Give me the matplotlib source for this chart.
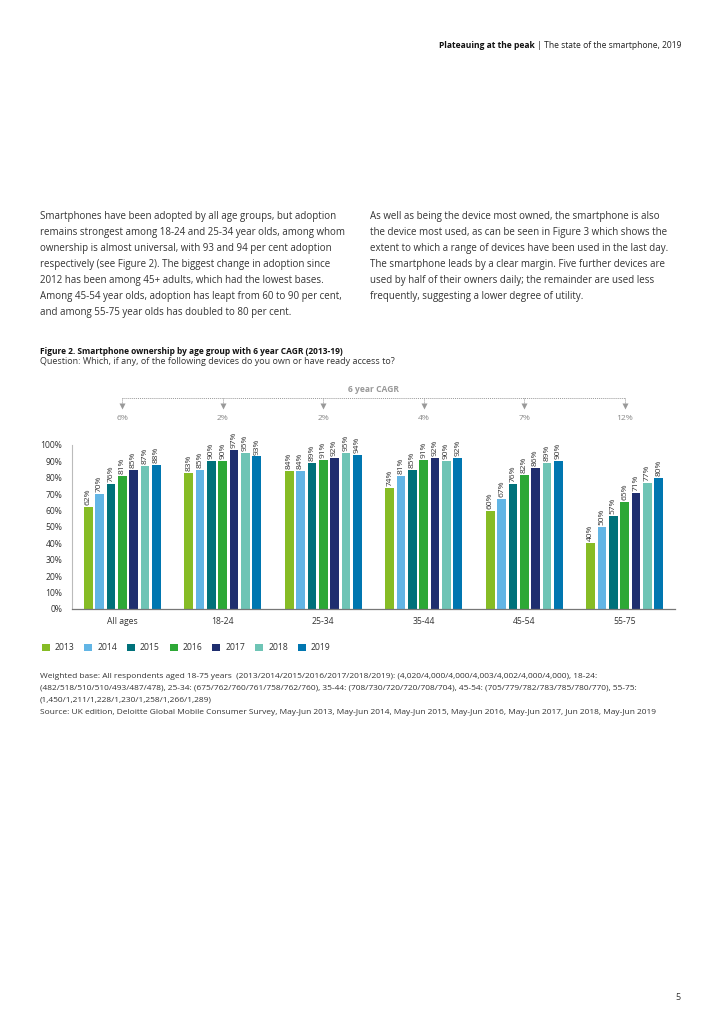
import matplotlib.pyplot as plt
import matplotlib.transforms as mtransforms
from matplotlib.patches import Patch
import numpy as np

plt.rcParams['font.family'] = ['Open Sans', 'DejaVu Sans']

# ~~~~~~~~~~~~~~~~~~~~~~~~~~~~~~~~~~   DATA   ~~~~~~~~~~~~~~~~~~~~~~~~~~~~~~~~~~
groups = ['All ages', '18-24', '25-34', '35-44', '45-54', '55-75']
years = ['2013', '2014', '2015', '2016', '2017', '2018', '2019']
ownership = {
    'All ages': [62, 70, 76, 81, 85, 87, 88],
    '18-24': [83, 85, 90, 90, 97, 95, 93],
    '25-34': [84, 84, 89, 91, 92, 95, 94],
    '35-44': [74, 81, 85, 91, 92, 90, 92],
    '45-54': [60, 67, 76, 82, 86, 89, 90],
    '55-75': [40, 50, 57, 65, 71, 77, 80],
}
cagr = ['6%', '2%', '2%', '4%', '7%', '12%']
y_ticks = [0, 10, 20, 30, 40, 50, 60, 70, 80, 90, 100]

colors = ['#86BC25', '#62B5E5', '#00717A', '#2DA836', '#1F2E6F', '#6EC4B5', '#0076B0']

left_col = [
    "Smartphones have been adopted by all age groups, but adoption",
    "remains strongest among 18-24 and 25-34 year olds, among whom",
    "ownership is almost universal, with 93 and 94 per cent adoption",
    "respectively (see Figure 2). The biggest change in adoption since",
    "2012 has been among 45+ adults, which had the lowest bases.",
    "Among 45-54 year olds, adoption has leapt from 60 to 90 per cent,",
    "and among 55-75 year olds has doubled to 80 per cent.",
]
right_col = [
    "As well as being the device most owned, the smartphone is also",
    "the device most used, as can be seen in Figure 3 which shows the",
    "extent to which a range of devices have been used in the last day.",
    "The smartphone leads by a clear margin. Five further devices are",
    "used by half of their owners daily; the remainder are used less",
    "frequently, suggesting a lower degree of utility.",
]
footnote = [
    "Weighted base: All respondents aged 18-75 years  (2013/2014/2015/2016/2017/2018/2019): (4,020/4,000/4,000/4,003/4,002/4,000/4,000), 18-24:",
    "(482/518/510/510/493/487/478), 25-34: (675/762/760/761/758/762/760), 35-44: (708/730/720/720/708/704), 45-54: (705/779/782/783/785/780/770), 55-75:",
    "(1,450/1,211/1,228/1,230/1,258/1,266/1,289)",
    "Source: UK edition, Deloitte Global Mobile Consumer Survey, May-Jun 2013, May-Jun 2014, May-Jun 2015, May-Jun 2016, May-Jun 2017, Jun 2018, May-Jun 2019",
]

# ~~~~~~~~~~~~~~~~~~~~~~~~~~~~~~~~~~   PAGE   ~~~~~~~~~~~~~~~~~~~~~~~~~~~~~~~~~~
W, H = 724, 1024
fig = plt.figure(figsize=(7.24, 10.24), dpi=100)


def fx(x):
    return x / W


def fy(y):
    return 1 - y / H


text_col = '#333333'
grey = '#999999'

# header
renderer = fig.canvas.get_renderer()
t_reg = fig.text(fx(681), fy(45), ' | The state of the smartphone, 2019', fontsize=6.15,
                 ha='right', va='center', color='#222222')
bb = t_reg.get_window_extent(renderer)
fig.text(bb.x0 / W, fy(45), 'Plateauing at the peak', fontsize=6.15, fontweight='bold',
         ha='right', va='center', color='#111111')

# body text
for i, line in enumerate(left_col):
    fig.text(fx(40), fy(216 + 16 * i), line, fontsize=7.05, color=text_col, va='center')
for i, line in enumerate(right_col):
    fig.text(fx(370), fy(216 + 16 * i), line, fontsize=7.05, color=text_col, va='center')

# figure title
fig.text(fx(40), fy(351), 'Figure 2. Smartphone ownership by age group with 6 year CAGR (2013-19)',
         fontsize=6.05, fontweight='bold', color='#111111', va='center')
fig.text(fx(40), fy(362), 'Question: Which, if any, of the following devices do you own or have ready access to?',
         fontsize=6.45, color=text_col, va='center')

# ~~~~~~~~~~~~~~~~~~~~~~~~~~~~~~~~~~   CHART   ~~~~~~~~~~~~~~~~~~~~~~~~~~~~~~~~~~
ax = fig.add_axes([fx(72), fy(609), (675 - 72) / W, (609 - 445) / H])
x = np.arange(len(groups))
pitch = 0.113
width = 0.086
for j, yr in enumerate(years):
    vals = [ownership[g][j] for g in groups]
    pos = x + (j - 3) * pitch
    ax.bar(pos, vals, width, color=colors[j], label=yr)
    for p, v in zip(pos, vals):
        ax.text(p, v + 1.2, f'{v}%', rotation=90, ha='center', va='bottom',
                fontsize=6.0, color='#333333')

ax.set_xlim(-0.5, len(groups) - 0.5)
ax.set_ylim(0, 100)
ax.set_yticks(y_ticks)
ax.set_yticklabels([f'{t}%' for t in y_ticks])
ax.set_xticks(x)
ax.set_xticklabels(groups)
ax.tick_params(axis='both', length=0, labelsize=6.2, colors='#333333')
ax.tick_params(axis='y', pad=7)
ax.tick_params(axis='x', pad=6)
for s in ['top', 'right']:
    ax.spines[s].set_visible(False)
ax.spines['left'].set_color('#bbbbbb')
ax.spines['left'].set_linewidth(0.8)
ax.spines['bottom'].set_color('#777777')
ax.spines['bottom'].set_linewidth(0.9)

# CAGR bracket
blend = mtransforms.blended_transform_factory(ax.transData, fig.transFigure)
ax.plot([x[0], x[-1]], [fy(398), fy(398)], ls=(0, (1, 1)), lw=0.7, color=grey,
        transform=blend, clip_on=False)
for xi, c in zip(x, cagr):
    ax.plot([xi, xi], [fy(398), fy(405)], ls=(0, (1, 1)), lw=0.7, color=grey,
            transform=blend, clip_on=False)
    ax.plot([xi], [fy(406)], marker='v', ms=4.5, color=grey, mec='none',
            transform=blend, clip_on=False)
    ax.text(xi, fy(418), c, ha='center', va='center', fontsize=6.1, color='#888888',
            transform=blend)
fig.text(fx(373), fy(390), '6 year CAGR', ha='center', va='center', fontsize=6.1,
         fontweight='bold', color='#999999')

# legend
handles = [Patch(facecolor=c, label=y) for c, y in zip(colors, years)]
fig.legend(handles=handles, loc='center left', bbox_to_anchor=(fx(34), fy(648)), ncol=7,
           frameon=False, fontsize=6.2, handlelength=0.9, handleheight=0.9,
           handletextpad=0.6, columnspacing=1.16, labelcolor='#333333')

# footnote
for i, line in enumerate(footnote):
    fig.text(fx(40), fy(676 + 12 * i), line, fontsize=6.05, color=text_col, va='center')

# page number
fig.text(fx(681), fy(997), '5', fontsize=6.5, ha='right', va='center', color='#333333')

plt.savefig('out.png', dpi=100)
